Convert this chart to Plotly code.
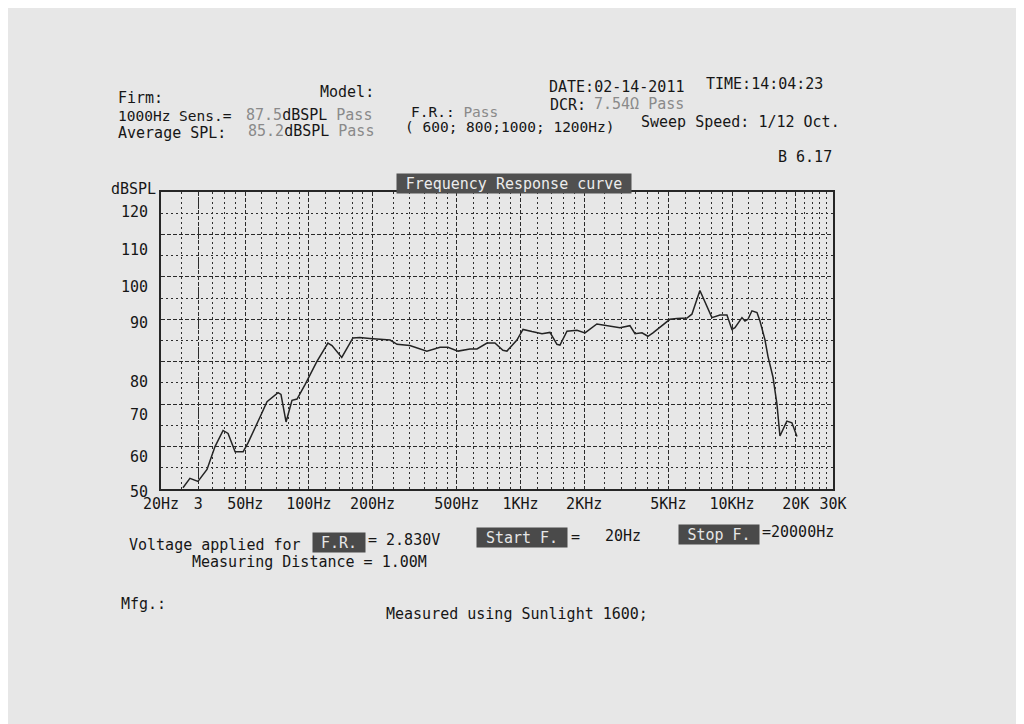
import plotly.graph_objects as go

# ---------------- data ----------------
freq_hz = [25.4, 27.4, 29.9, 33.0, 36.0, 39.3, 41.5, 44.8, 48.9, 51.5, 58.7, 63.4,
           71.5, 73.8, 78.0, 83.2, 87.9, 95.9, 109, 123, 128.6, 143, 161.5, 174, 194,
           242, 261, 300, 361, 417, 454, 507, 577, 623, 695, 757, 826, 863, 962,
           1028, 1133, 1264, 1379, 1487, 1537, 1659, 1849, 2018, 2297, 2562, 2952,
           3291, 3478, 3752, 4002, 4228, 5084, 5490, 6122, 6460, 7048, 8031, 8766,
           9460, 9985, 10320, 11140, 11510, 11890, 12420, 13120, 13550, 14300, 14790,
           15610, 16300, 16840, 18160, 19180, 20270]
spl_db = [50.3, 52.5, 51.8, 54.6, 60.0, 63.8, 63.1, 58.8, 58.8, 60.8, 66.9, 70.6,
          72.7, 72.3, 65.8, 70.9, 71.2, 74.6, 80.0, 84.4, 83.8, 81.0, 85.6, 85.7, 85.5,
          85.1, 84.1, 83.8, 82.5, 83.4, 83.4, 82.5, 83.0, 83.0, 84.4, 84.4, 82.7, 82.5, 85.1,
          87.6, 87.1, 86.6, 86.9, 84.1, 83.9, 87.2, 87.4, 86.8, 88.9, 88.5, 88.0,
          88.5, 86.6, 86.8, 86.0, 86.8, 90.0, 90.2, 90.3, 91.2, 96.8, 90.4, 91.0,
          91.0, 87.6, 88.0, 90.4, 89.6, 90.0, 92.0, 91.6, 89.6, 85.2, 81.2,
          76.4, 70.0, 62.5, 66.0, 65.6, 62.4]

x_tick_vals = [20, 30, 50, 100, 200, 500, 1000, 2000, 5000, 10000, 20000, 30000]
x_tick_text = ["20Hz", "3", "50Hz", "100Hz", "200Hz", "500Hz", "1KHz", "2KHz",
               "5KHz", "10KHz", "20K", "30K"]
x_minor_vals = [25, 30, 35, 40, 45, 60, 70, 80, 90, 120, 140, 160, 180,
                250, 300, 350, 400, 450, 600, 700, 800, 900, 1200, 1400, 1600, 1800,
                2500, 3000, 3500, 4000, 4500, 6000, 7000, 8000, 9000,
                12000, 14000, 16000, 18000, 22000, 24000, 26000, 28000]
y_tick_vals = [50, 60, 70, 80, 90, 100, 110, 120]
y_tick_text = ["50", "60", "70", "80", "90", "100", "110", "120"]
y_minor_vals = [55, 65, 75, 85, 95, 105, 115]

# ---------------- layout geometry (page pixels) ----------------
OFF = 8                      # page body margin of the browser
W, H = 1024 - OFF, 724 - OFF
L, R, T, B = 161, 833, 192, 489
FONT = "DejaVu Sans Mono"
INK = "#161616"
GREY = "#8a8a8a"
PAPER = "#e7e7e7"
# printed y labels sit a little below their grid lines (pixels, per label)
y_label_drop = [3, 10, 11, 20, 4, 10, 16, 20]


def P(px, py):
    return (px - L) / (R - L), (B - py) / (B - T)


fig = go.Figure()
fig.add_trace(go.Scatter(x=freq_hz, y=spl_db, mode="lines",
                         line=dict(color="#242424", width=1.5),
                         hoverinfo="x+y", showlegend=False))

fig.update_xaxes(type="log", range=[1.30103, 4.4771213],
                 tickmode="array", tickvals=x_tick_vals, ticktext=x_tick_text,
                 showgrid=True, gridcolor="#2a2a2a", gridwidth=1.2, griddash="4px,2px",
                 minor=dict(tickmode="array", tickvals=x_minor_vals, showgrid=True,
                            gridcolor="#2e2e2e", gridwidth=1.2, griddash="2px,3px"),
                 showline=True, mirror=True, linecolor="#262626", linewidth=1.6,
                 ticks="", zeroline=False,
                 tickfont=dict(family=FONT, size=15, color=INK))
fig.update_yaxes(range=[50, 120], tickmode="array", tickvals=y_tick_vals,
                 showticklabels=False,
                 showgrid=True, gridcolor="#2a2a2a", gridwidth=1.2, griddash="4px,2px",
                 minor=dict(tickmode="array", tickvals=y_minor_vals, showgrid=True,
                            gridcolor="#2e2e2e", gridwidth=1.2, griddash="2px,3px"),
                 showline=True, mirror=True, linecolor="#262626", linewidth=1.6,
                 ticks="", zeroline=False)

annotations = []


def txt(px, py, text, size=15, color=INK, anchor="left", **kw):
    x, y = P(px - (2 if anchor == "left" else 0), py)
    annotations.append(dict(x=x, y=y, xref="paper", yref="paper", text=text,
                            showarrow=False, xanchor=anchor, yanchor="middle",
                            font=dict(family=FONT, size=size, color=color), **kw))


def g(s):
    return f"<span style='color:{GREY}'>{s}</span>"


# y tick labels, placed on the y scale
for v, t, d in zip(y_tick_vals, y_tick_text, y_label_drop):
    annotations.append(dict(x=P(150, 0)[0], xref="paper", y=v, yref="y", text=t,
                            showarrow=False, xanchor="right", yanchor="middle",
                            yshift=-d, font=dict(family=FONT, size=15, color=INK)))

# header
txt(118, 98, "Firm:")
txt(320, 92, "Model:")
txt(549, 87, "DATE:02-14-2011")
txt(706, 84, "TIME:14:04:23")
txt(118, 116, "1000Hz Sens.=", size=14.5)
txt(246, 115, g("87.5") + "dBSPL " + g("Pass"))
txt(411, 112, "F.R.: " + g("Pass"), size=14.5)
txt(550, 105, "DCR:")
txt(594, 104, g("7.54Ω Pass"))
txt(118, 133, "Average SPL:")
txt(248, 131, g("85.2") + "dBSPL " + g("Pass"))
txt(405, 127, "( 600; 800;1000; 1200Hz)", size=14.5)
txt(641, 122, "Sweep Speed: 1/12 Oct.")
txt(778, 157, "B 6.17")
txt(111, 189, "dBSPL")

# chart title box
txt(514, 183, "Frequency Response curve", color="#ececec", anchor="center",
    bgcolor="#505050", width=232, height=17, borderpad=1)

# footer
txt(129, 545, "Voltage applied for")
txt(339, 542, "F.R.", color="#e6e6e6", anchor="center", bgcolor="#4a4a4a",
    width=50, height=17, borderpad=1)
txt(368, 540, "= 2.830V")
txt(522, 537, "Start F.", color="#e6e6e6", anchor="center", bgcolor="#4a4a4a",
    width=88, height=17, borderpad=1)
txt(571, 537, "=")
txt(605, 536, "20Hz")
txt(719, 534, "Stop F.", color="#e6e6e6", anchor="center", bgcolor="#4a4a4a",
    width=78, height=17, borderpad=1)
txt(762, 532, "=20000Hz")
txt(192, 562, "Measuring Distance = 1.00M")
txt(121, 604, "Mfg.:")
txt(386, 614, "Measured using Sunlight 1600;")

fig.update_layout(width=W, height=H, autosize=False,
                  margin=dict(l=L - OFF, r=W - (R - OFF), t=T - OFF,
                              b=H - (B - OFF), pad=0),
                  paper_bgcolor=PAPER, plot_bgcolor=PAPER,
                  font=dict(family=FONT, size=15, color=INK),
                  annotations=annotations, showlegend=False)

fig.write_html("out.html")
